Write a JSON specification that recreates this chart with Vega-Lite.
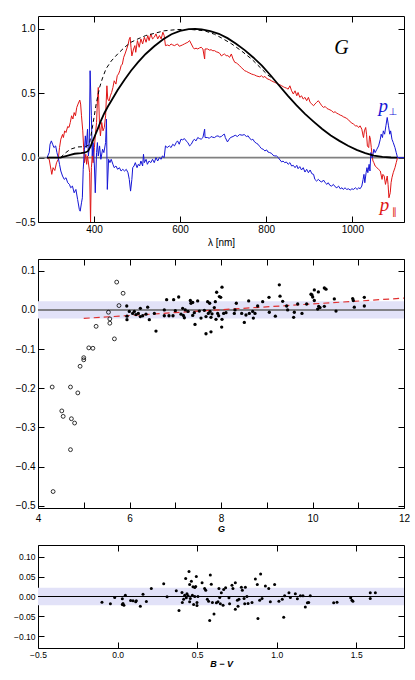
{
"$schema":"https://vega.github.io/schema/vega-lite/v6.json",
"padding":{"left":12,"top":15,"right":5,"bottom":5},
"spacing":37,
"bounds":"flush",
"config":{
"view":{"stroke":"black","strokeWidth":1},
"font":"Liberation Sans",
"axis":{"grid":false,"domain":false,"ticks":true,"tickSize":-6,"tickColor":"black","tickWidth":1,"labelFont":"Liberation Sans","labelFontSize":10,"labelColor":"black","labelPadding":9,"titleFont":"Liberation Sans","titleFontSize":10,"titleFontWeight":"normal","titleColor":"black","labelFlush":false,"labelOverlap":false,"labelBound":false}
},
"datasets":{
"zero":[{"v":0}],
"band":[{"lo":-0.022,"hi":0.022}],
"red":[{"lam":291,"v":0},{"lam":296,"v":-0.013},{"lam":300,"v":-0.09},{"lam":302,"v":-0.13},{"lam":305,"v":-0.078},{"lam":309,"v":-0.1},{"lam":313,"v":-0.04},{"lam":317,"v":-0.013},{"lam":320,"v":0.078},{"lam":323,"v":0.143},{"lam":327,"v":0.18},{"lam":329,"v":0.156},{"lam":332,"v":0.208},{"lam":335,"v":0.195},{"lam":339,"v":0.242},{"lam":342,"v":0.234},{"lam":345,"v":0.273},{"lam":348,"v":0.325},{"lam":351,"v":0.3},{"lam":354,"v":0.35},{"lam":357,"v":0.325},{"lam":360,"v":0.39},{"lam":363,"v":0.416},{"lam":367,"v":0.447},{"lam":369,"v":0.416},{"lam":371,"v":0.325},{"lam":374,"v":0.208},{"lam":376,"v":0.078},{"lam":378,"v":-0.039},{"lam":381,"v":0.026},{"lam":383,"v":-0.052},{"lam":385,"v":0.013},{"lam":388,"v":-0.065},{"lam":390,"v":-0.117},{"lam":392,"v":-0.5},{"lam":394,"v":-0.078},{"lam":396,"v":0.013},{"lam":398,"v":-0.04},{"lam":401,"v":0.078},{"lam":403,"v":0.169},{"lam":406,"v":0.273},{"lam":408,"v":0.44},{"lam":410,"v":0.545},{"lam":413,"v":0.247},{"lam":415,"v":0.169},{"lam":418,"v":0.273},{"lam":421,"v":0.208},{"lam":424,"v":0.234},{"lam":427,"v":0.325},{"lam":430,"v":0.558},{"lam":432,"v":0.455},{"lam":435,"v":0.44},{"lam":438,"v":0.48},{"lam":441,"v":0.506},{"lam":444,"v":0.545},{"lam":447,"v":0.597},{"lam":451,"v":0.571},{"lam":454,"v":0.636},{"lam":457,"v":0.65},{"lam":460,"v":0.675},{"lam":463,"v":0.714},{"lam":466,"v":0.727},{"lam":469,"v":0.779},{"lam":472,"v":0.805},{"lam":476,"v":0.844},{"lam":479,"v":0.875},{"lam":482,"v":0.922},{"lam":484,"v":0.935},{"lam":486,"v":0.857},{"lam":488,"v":0.79},{"lam":492,"v":0.844},{"lam":495,"v":0.87},{"lam":497,"v":0.818},{"lam":501,"v":0.909},{"lam":505,"v":0.857},{"lam":509,"v":0.922},{"lam":513,"v":0.883},{"lam":517,"v":0.935},{"lam":521,"v":0.896},{"lam":525,"v":0.948},{"lam":528,"v":0.909},{"lam":532,"v":0.961},{"lam":536,"v":0.922},{"lam":540,"v":0.935},{"lam":544,"v":0.961},{"lam":548,"v":0.922},{"lam":552,"v":0.948},{"lam":556,"v":0.922},{"lam":560,"v":0.974},{"lam":563,"v":0.948},{"lam":566,"v":0.87},{"lam":571,"v":0.875},{"lam":575,"v":0.868},{"lam":579,"v":0.883},{"lam":583,"v":0.875},{"lam":587,"v":0.87},{"lam":591,"v":0.878},{"lam":594,"v":0.883},{"lam":598,"v":0.865},{"lam":602,"v":0.87},{"lam":606,"v":0.876},{"lam":610,"v":0.883},{"lam":614,"v":0.89},{"lam":618,"v":0.896},{"lam":622,"v":0.909},{"lam":626,"v":0.883},{"lam":630,"v":0.857},{"lam":633,"v":0.844},{"lam":637,"v":0.85},{"lam":641,"v":0.844},{"lam":645,"v":0.852},{"lam":649,"v":0.857},{"lam":653,"v":0.844},{"lam":657,"v":0.766},{"lam":658,"v":0.844},{"lam":664,"v":0.844},{"lam":668,"v":0.835},{"lam":672,"v":0.838},{"lam":676,"v":0.83},{"lam":680,"v":0.831},{"lam":684,"v":0.822},{"lam":688,"v":0.818},{"lam":692,"v":0.81},{"lam":696,"v":0.79},{"lam":700,"v":0.8},{"lam":703,"v":0.805},{"lam":707,"v":0.792},{"lam":711,"v":0.792},{"lam":715,"v":0.779},{"lam":719,"v":0.805},{"lam":723,"v":0.766},{"lam":727,"v":0.74},{"lam":731,"v":0.735},{"lam":734,"v":0.727},{"lam":738,"v":0.715},{"lam":742,"v":0.7},{"lam":746,"v":0.688},{"lam":750,"v":0.675},{"lam":754,"v":0.67},{"lam":758,"v":0.662},{"lam":762,"v":0.656},{"lam":766,"v":0.649},{"lam":770,"v":0.645},{"lam":773,"v":0.642},{"lam":777,"v":0.635},{"lam":781,"v":0.631},{"lam":785,"v":0.628},{"lam":789,"v":0.636},{"lam":793,"v":0.623},{"lam":797,"v":0.631},{"lam":800,"v":0.618},{"lam":804,"v":0.61},{"lam":808,"v":0.605},{"lam":812,"v":0.597},{"lam":816,"v":0.59},{"lam":820,"v":0.584},{"lam":824,"v":0.578},{"lam":828,"v":0.571},{"lam":832,"v":0.565},{"lam":836,"v":0.558},{"lam":840,"v":0.55},{"lam":843,"v":0.545},{"lam":847,"v":0.54},{"lam":851,"v":0.532},{"lam":855,"v":0.558},{"lam":859,"v":0.519},{"lam":863,"v":0.494},{"lam":867,"v":0.519},{"lam":871,"v":0.48},{"lam":874,"v":0.506},{"lam":878,"v":0.468},{"lam":882,"v":0.48},{"lam":886,"v":0.455},{"lam":890,"v":0.468},{"lam":894,"v":0.442},{"lam":898,"v":0.468},{"lam":902,"v":0.429},{"lam":906,"v":0.416},{"lam":910,"v":0.403},{"lam":913,"v":0.416},{"lam":917,"v":0.429},{"lam":921,"v":0.442},{"lam":925,"v":0.423},{"lam":929,"v":0.403},{"lam":933,"v":0.39},{"lam":937,"v":0.397},{"lam":941,"v":0.382},{"lam":944,"v":0.377},{"lam":948,"v":0.371},{"lam":952,"v":0.364},{"lam":956,"v":0.351},{"lam":960,"v":0.356},{"lam":964,"v":0.345},{"lam":968,"v":0.338},{"lam":972,"v":0.33},{"lam":976,"v":0.325},{"lam":979,"v":0.317},{"lam":983,"v":0.312},{"lam":987,"v":0.304},{"lam":991,"v":0.294},{"lam":995,"v":0.278},{"lam":999,"v":0.268},{"lam":1003,"v":0.26},{"lam":1007,"v":0.247},{"lam":1011,"v":0.247},{"lam":1015,"v":0.234},{"lam":1018,"v":0.247},{"lam":1022,"v":0.221},{"lam":1025,"v":0.169},{"lam":1026,"v":0.156},{"lam":1028,"v":0.208},{"lam":1031,"v":0.234},{"lam":1033,"v":0.182},{"lam":1035,"v":0.091},{"lam":1038,"v":0.078},{"lam":1040,"v":0.169},{"lam":1042,"v":0.143},{"lam":1044,"v":0.078},{"lam":1046,"v":0.013},{"lam":1048,"v":-0.026},{"lam":1050,"v":-0.039},{"lam":1053,"v":-0.065},{"lam":1057,"v":-0.078},{"lam":1061,"v":-0.091},{"lam":1065,"v":-0.104},{"lam":1069,"v":-0.169},{"lam":1071,"v":-0.13},{"lam":1074,"v":-0.143},{"lam":1077,"v":-0.208},{"lam":1081,"v":-0.143},{"lam":1083,"v":-0.208},{"lam":1085,"v":-0.312},{"lam":1088,"v":-0.273},{"lam":1090,"v":-0.195},{"lam":1092,"v":-0.156},{"lam":1095,"v":-0.117},{"lam":1099,"v":-0.078},{"lam":1102,"v":-0.039},{"lam":1105,"v":0}],
"blue":[{"lam":291,"v":0},{"lam":296,"v":0.039},{"lam":298,"v":0.104},{"lam":301,"v":0.13},{"lam":304,"v":0.104},{"lam":307,"v":0.078},{"lam":311,"v":0.091},{"lam":314,"v":0.039},{"lam":317,"v":0},{"lam":320,"v":-0.052},{"lam":323,"v":-0.104},{"lam":327,"v":-0.143},{"lam":331,"v":-0.169},{"lam":335,"v":-0.156},{"lam":339,"v":-0.195},{"lam":343,"v":-0.208},{"lam":346,"v":-0.234},{"lam":350,"v":-0.221},{"lam":354,"v":-0.273},{"lam":358,"v":-0.247},{"lam":362,"v":-0.325},{"lam":366,"v":-0.403},{"lam":368,"v":-0.416},{"lam":371,"v":-0.351},{"lam":373,"v":-0.312},{"lam":375,"v":-0.091},{"lam":378,"v":0.065},{"lam":380,"v":0.169},{"lam":382,"v":0.078},{"lam":385,"v":0.221},{"lam":387,"v":0.013},{"lam":389,"v":0.078},{"lam":391,"v":0.675},{"lam":394,"v":0.325},{"lam":396,"v":0.013},{"lam":398,"v":0.117},{"lam":401,"v":-0.065},{"lam":403,"v":-0.273},{"lam":406,"v":0.039},{"lam":408,"v":0.117},{"lam":410,"v":0.013},{"lam":413,"v":0.091},{"lam":416,"v":-0.013},{"lam":420,"v":0.065},{"lam":423,"v":0.039},{"lam":427,"v":0.117},{"lam":429,"v":0.3},{"lam":431,"v":-0.247},{"lam":434,"v":-0.013},{"lam":437,"v":-0.039},{"lam":440,"v":-0.013},{"lam":444,"v":-0.052},{"lam":447,"v":-0.078},{"lam":451,"v":-0.065},{"lam":455,"v":-0.091},{"lam":459,"v":-0.078},{"lam":463,"v":-0.104},{"lam":467,"v":-0.091},{"lam":471,"v":-0.104},{"lam":475,"v":-0.091},{"lam":479,"v":-0.117},{"lam":482,"v":-0.169},{"lam":485,"v":-0.26},{"lam":488,"v":-0.169},{"lam":490,"v":-0.078},{"lam":493,"v":-0.065},{"lam":496,"v":-0.039},{"lam":500,"v":-0.078},{"lam":503,"v":-0.052},{"lam":506,"v":-0.065},{"lam":509,"v":-0.026},{"lam":513,"v":-0.065},{"lam":515,"v":0.026},{"lam":517,"v":-0.039},{"lam":521,"v":-0.013},{"lam":524,"v":-0.052},{"lam":528,"v":-0.026},{"lam":532,"v":-0.039},{"lam":536,"v":-0.013},{"lam":540,"v":-0.039},{"lam":544,"v":0},{"lam":548,"v":-0.026},{"lam":552,"v":0},{"lam":556,"v":-0.013},{"lam":559,"v":0.013},{"lam":563,"v":0},{"lam":566,"v":0.091},{"lam":570,"v":0.078},{"lam":575,"v":0.091},{"lam":579,"v":0.078},{"lam":583,"v":0.104},{"lam":587,"v":0.091},{"lam":591,"v":0.117},{"lam":594,"v":0.13},{"lam":598,"v":0.104},{"lam":602,"v":0.143},{"lam":606,"v":0.138},{"lam":610,"v":0.148},{"lam":614,"v":0.13},{"lam":618,"v":0.117},{"lam":622,"v":0.091},{"lam":626,"v":0.104},{"lam":630,"v":0.13},{"lam":633,"v":0.143},{"lam":637,"v":0.13},{"lam":641,"v":0.156},{"lam":645,"v":0.148},{"lam":649,"v":0.143},{"lam":653,"v":0.156},{"lam":657,"v":0.221},{"lam":658,"v":0.156},{"lam":664,"v":0.156},{"lam":668,"v":0.15},{"lam":672,"v":0.164},{"lam":676,"v":0.158},{"lam":680,"v":0.156},{"lam":684,"v":0.166},{"lam":688,"v":0.169},{"lam":692,"v":0.16},{"lam":696,"v":0.164},{"lam":700,"v":0.178},{"lam":703,"v":0.182},{"lam":705,"v":0.156},{"lam":710,"v":0.122},{"lam":713,"v":0.138},{"lam":717,"v":0.156},{"lam":723,"v":0.164},{"lam":728,"v":0.174},{"lam":733,"v":0.164},{"lam":738,"v":0.179},{"lam":744,"v":0.174},{"lam":749,"v":0.179},{"lam":754,"v":0.164},{"lam":758,"v":0.169},{"lam":762,"v":0.148},{"lam":766,"v":0.138},{"lam":769,"v":0.143},{"lam":773,"v":0.122},{"lam":777,"v":0.112},{"lam":781,"v":0.104},{"lam":785,"v":0.086},{"lam":789,"v":0.07},{"lam":793,"v":0.065},{"lam":797,"v":0.052},{"lam":801,"v":0.06},{"lam":804,"v":0.044},{"lam":808,"v":0.039},{"lam":812,"v":0.034},{"lam":816,"v":0.018},{"lam":820,"v":0.013},{"lam":824,"v":0.013},{"lam":828,"v":0},{"lam":832,"v":-0.018},{"lam":836,"v":-0.034},{"lam":839,"v":-0.026},{"lam":843,"v":-0.039},{"lam":847,"v":-0.034},{"lam":851,"v":-0.052},{"lam":855,"v":-0.039},{"lam":859,"v":-0.065},{"lam":863,"v":-0.06},{"lam":867,"v":-0.078},{"lam":871,"v":-0.06},{"lam":874,"v":-0.086},{"lam":878,"v":-0.07},{"lam":882,"v":-0.096},{"lam":886,"v":-0.078},{"lam":890,"v":-0.112},{"lam":894,"v":-0.091},{"lam":898,"v":-0.117},{"lam":902,"v":-0.096},{"lam":906,"v":-0.125},{"lam":910,"v":-0.13},{"lam":913,"v":-0.169},{"lam":917,"v":-0.182},{"lam":921,"v":-0.169},{"lam":925,"v":-0.182},{"lam":929,"v":-0.19},{"lam":933,"v":-0.174},{"lam":937,"v":-0.195},{"lam":941,"v":-0.208},{"lam":944,"v":-0.195},{"lam":948,"v":-0.216},{"lam":952,"v":-0.221},{"lam":956,"v":-0.208},{"lam":960,"v":-0.226},{"lam":964,"v":-0.234},{"lam":968,"v":-0.221},{"lam":972,"v":-0.242},{"lam":976,"v":-0.234},{"lam":979,"v":-0.247},{"lam":983,"v":-0.234},{"lam":987,"v":-0.247},{"lam":991,"v":-0.242},{"lam":995,"v":-0.252},{"lam":999,"v":-0.242},{"lam":1003,"v":-0.247},{"lam":1007,"v":-0.234},{"lam":1011,"v":-0.247},{"lam":1015,"v":-0.234},{"lam":1018,"v":-0.242},{"lam":1022,"v":-0.221},{"lam":1025,"v":-0.169},{"lam":1027,"v":-0.13},{"lam":1029,"v":-0.195},{"lam":1032,"v":-0.117},{"lam":1034,"v":-0.078},{"lam":1036,"v":-0.117},{"lam":1039,"v":-0.052},{"lam":1041,"v":-0.104},{"lam":1043,"v":0.039},{"lam":1046,"v":0},{"lam":1048,"v":0.026},{"lam":1050,"v":0.065},{"lam":1053,"v":0.039},{"lam":1057,"v":0.065},{"lam":1061,"v":0.091},{"lam":1065,"v":0.143},{"lam":1067,"v":0.182},{"lam":1070,"v":0.156},{"lam":1072,"v":0.208},{"lam":1075,"v":0.182},{"lam":1078,"v":0.247},{"lam":1081,"v":0.312},{"lam":1084,"v":0.247},{"lam":1087,"v":0.182},{"lam":1089,"v":0.208},{"lam":1092,"v":0.143},{"lam":1095,"v":0.117},{"lam":1099,"v":0.078},{"lam":1102,"v":0.039},{"lam":1105,"v":0},{"lam":1120,"v":0}],
"solid":[{"lam":291,"v":0},{"lam":322,"v":0},{"lam":335,"v":0.012},{"lam":345,"v":0.022},{"lam":355,"v":0.03},{"lam":370,"v":0.035},{"lam":380,"v":0.04},{"lam":386,"v":0.05},{"lam":392,"v":0.085},{"lam":396,"v":0.12},{"lam":401,"v":0.16},{"lam":409,"v":0.225},{"lam":416,"v":0.285},{"lam":424,"v":0.345},{"lam":432,"v":0.395},{"lam":440,"v":0.44},{"lam":455,"v":0.525},{"lam":471,"v":0.605},{"lam":486,"v":0.675},{"lam":502,"v":0.74},{"lam":520,"v":0.805},{"lam":540,"v":0.865},{"lam":560,"v":0.918},{"lam":580,"v":0.958},{"lam":600,"v":0.985},{"lam":620,"v":0.998},{"lam":635,"v":1.0},{"lam":650,"v":0.996},{"lam":670,"v":0.983},{"lam":690,"v":0.962},{"lam":710,"v":0.928},{"lam":730,"v":0.885},{"lam":750,"v":0.835},{"lam":770,"v":0.778},{"lam":790,"v":0.715},{"lam":810,"v":0.64},{"lam":830,"v":0.56},{"lam":850,"v":0.482},{"lam":870,"v":0.408},{"lam":890,"v":0.34},{"lam":910,"v":0.28},{"lam":930,"v":0.222},{"lam":950,"v":0.172},{"lam":970,"v":0.13},{"lam":990,"v":0.092},{"lam":1010,"v":0.06},{"lam":1030,"v":0.035},{"lam":1050,"v":0.016},{"lam":1070,"v":0.006},{"lam":1090,"v":0.001},{"lam":1104,"v":0}],
"dashed":[{"lam":322,"v":0},{"lam":335,"v":0.04},{"lam":345,"v":0.065},{"lam":362,"v":0.083},{"lam":380,"v":0.085},{"lam":389,"v":0.1},{"lam":393,"v":0.17},{"lam":397,"v":0.25},{"lam":401,"v":0.33},{"lam":405,"v":0.415},{"lam":409,"v":0.48},{"lam":413,"v":0.545},{"lam":420,"v":0.62},{"lam":428,"v":0.69},{"lam":440,"v":0.75},{"lam":455,"v":0.805},{"lam":471,"v":0.857},{"lam":486,"v":0.896},{"lam":502,"v":0.922},{"lam":520,"v":0.948},{"lam":540,"v":0.965},{"lam":563,"v":0.985},{"lam":594,"v":0.995},{"lam":626,"v":0.995},{"lam":657,"v":0.985},{"lam":680,"v":0.958},{"lam":696,"v":0.93},{"lam":719,"v":0.885},{"lam":742,"v":0.83},{"lam":766,"v":0.766},{"lam":789,"v":0.69},{"lam":804,"v":0.64},{"lam":818,"v":0.61}],
"toplab":[{"lam":975,"v":0.855,"t":"G","k":"G"},{"lam":1072,"v":0.351,"t":"p","k":"pb"},{"lam":1094,"v":0.333,"t":"⊥","k":"sb"},{"lam":1075,"v":-0.415,"t":"p","k":"pr"},{"lam":1098,"v":-0.449,"t":"∥","k":"sr"}],
"mopen":[{"g":4.31,"d":-0.197},{"g":4.33,"d":-0.464},{"g":4.52,"d":-0.258},{"g":4.55,"d":-0.272},{"g":4.71,"d":-0.197},{"g":4.73,"d":-0.278},{"g":4.8,"d":-0.289},{"g":4.71,"d":-0.357},{"g":4.87,"d":-0.212},{"g":4.92,"d":-0.144},{"g":5.0,"d":-0.1275},{"g":5.0,"d":-0.122},{"g":5.11,"d":-0.097},{"g":5.2,"d":-0.098},{"g":5.27,"d":-0.042},{"g":5.54,"d":-0.006},{"g":5.57,"d":-0.023},{"g":5.57,"d":-0.034},{"g":5.67,"d":-0.074},{"g":5.72,"d":0.071},{"g":5.77,"d":0.011},{"g":5.86,"d":0.0425}],
"mfill":[{"g":5.94,"d":0.01},{"g":5.945,"d":-0.025},{"g":5.945,"d":-0.016},{"g":5.996,"d":-0.004},{"g":6.069,"d":-0.009},{"g":6.106,"d":-0.004},{"g":6.142,"d":-0.012},{"g":6.193,"d":-0.009},{"g":6.237,"d":0.004},{"g":6.237,"d":-0.017},{"g":6.288,"d":-0.015},{"g":6.361,"d":-0.011},{"g":6.397,"d":0.007},{"g":6.433,"d":-0.025},{"g":6.543,"d":-0.009},{"g":6.579,"d":-0.054},{"g":6.761,"d":0.0},{"g":6.761,"d":-0.015},{"g":6.812,"d":0.026},{"g":6.863,"d":-0.015},{"g":6.951,"d":-0.015},{"g":6.965,"d":0.026},{"g":7.002,"d":-0.002},{"g":7.075,"d":0.033},{"g":7.126,"d":-0.011},{"g":7.162,"d":0.004},{"g":7.177,"d":-0.014},{"g":7.199,"d":-0.02},{"g":7.22,"d":0.0},{"g":7.279,"d":-0.004},{"g":7.33,"d":0.024},{"g":7.344,"d":0.017},{"g":7.381,"d":0.019},{"g":7.381,"d":-0.014},{"g":7.417,"d":-0.007},{"g":7.432,"d":-0.037},{"g":7.49,"d":0.023},{"g":7.526,"d":-0.003},{"g":7.563,"d":-0.021},{"g":7.636,"d":-0.001},{"g":7.672,"d":-0.061},{"g":7.672,"d":-0.017},{"g":7.708,"d":0.021},{"g":7.723,"d":-0.009},{"g":7.752,"d":0.017},{"g":7.76,"d":-0.004},{"g":7.781,"d":-0.056},{"g":7.781,"d":-0.019},{"g":7.803,"d":-0.01},{"g":7.854,"d":0.006},{"g":7.876,"d":0.021},{"g":7.891,"d":-0.024},{"g":7.905,"d":0.045},{"g":7.927,"d":-0.009},{"g":7.949,"d":-0.015},{"g":7.964,"d":0.034},{"g":7.993,"d":0.032},{"g":8.015,"d":-0.044},{"g":8.022,"d":0.058},{"g":8.022,"d":-0.024},{"g":8.058,"d":-0.009},{"g":8.109,"d":-0.007},{"g":8.291,"d":-0.009},{"g":8.306,"d":0.0},{"g":8.335,"d":0.017},{"g":8.452,"d":-0.009},{"g":8.51,"d":-0.032},{"g":8.546,"d":-0.013},{"g":8.605,"d":0.023},{"g":8.619,"d":-0.009},{"g":8.692,"d":-0.004},{"g":8.707,"d":-0.021},{"g":8.743,"d":-0.009},{"g":8.801,"d":0.01},{"g":8.911,"d":0.021},{"g":9.049,"d":0.032},{"g":9.056,"d":-0.006},{"g":9.188,"d":-0.016},{"g":9.275,"d":0.064},{"g":9.29,"d":0.035},{"g":9.348,"d":0.022},{"g":9.435,"d":0.01},{"g":9.457,"d":0.0},{"g":9.588,"d":-0.019},{"g":9.603,"d":-0.006},{"g":9.676,"d":0.015},{"g":9.77,"d":-0.009},{"g":9.872,"d":0.015},{"g":9.967,"d":0.04},{"g":9.989,"d":0.038},{"g":10.004,"d":0.033},{"g":10.04,"d":0.024},{"g":10.04,"d":0.051},{"g":10.113,"d":0.002},{"g":10.128,"d":0.046},{"g":10.135,"d":0.009},{"g":10.164,"d":0.006},{"g":10.259,"d":0.056},{"g":10.295,"d":0.053},{"g":10.259,"d":0.009},{"g":10.477,"d":0.028},{"g":10.514,"d":-0.003},{"g":10.878,"d":0.029},{"g":10.892,"d":0.024},{"g":10.914,"d":0.007},{"g":11.133,"d":0.032},{"g":11.133,"d":0.01}],
"mfit":[{"g":5.0,"d":-0.0217},{"g":12.0,"d":0.03}],
"bot":[{"bv":-0.098,"d":-0.0143},{"bv":-0.045,"d":-0.0186},{"bv":-0.018,"d":-0.0025},{"bv":0.03,"d":-0.0059},{"bv":0.03,"d":-0.0203},{"bv":0.034,"d":-0.0177},{"bv":0.049,"d":0.0034},{"bv":0.04,"d":-0.0219},{"bv":0.082,"d":-0.0101},{"bv":0.097,"d":-0.011},{"bv":0.114,"d":-0.0135},{"bv":0.118,"d":-0.011},{"bv":0.143,"d":-0.0245},{"bv":0.16,"d":0.0059},{"bv":0.181,"d":-0.0127},{"bv":0.212,"d":0.0203},{"bv":0.29,"d":0.0321},{"bv":0.311,"d":-0.0008},{"bv":0.369,"d":0.0143},{"bv":0.386,"d":-0.0354},{"bv":0.405,"d":0.0101},{"bv":0.407,"d":-0.0152},{"bv":0.415,"d":-0.0068},{"bv":0.422,"d":0.0034},{"bv":0.428,"d":0.0456},{"bv":0.432,"d":-0.0034},{"bv":0.436,"d":0.0068},{"bv":0.443,"d":0.0017},{"bv":0.449,"d":0.0633},{"bv":0.453,"d":0.0304},{"bv":0.453,"d":-0.0135},{"bv":0.457,"d":-0.0051},{"bv":0.464,"d":0.0388},{"bv":0.47,"d":0.0034},{"bv":0.474,"d":0.0245},{"bv":0.478,"d":-0.0203},{"bv":0.485,"d":0.0},{"bv":0.485,"d":0.0228},{"bv":0.491,"d":0.0253},{"bv":0.495,"d":0.0506},{"bv":0.499,"d":-0.0152},{"bv":0.499,"d":-0.0228},{"bv":0.505,"d":0.0},{"bv":0.531,"d":0.0346},{"bv":0.547,"d":0.0203},{"bv":0.554,"d":0.016},{"bv":0.564,"d":-0.0068},{"bv":0.572,"d":-0.0118},{"bv":0.579,"d":-0.0608},{"bv":0.583,"d":0.054},{"bv":0.589,"d":0.0312},{"bv":0.596,"d":-0.0152},{"bv":0.606,"d":-0.0439},{"bv":0.621,"d":-0.016},{"bv":0.631,"d":-0.0135},{"bv":0.637,"d":0.0203},{"bv":0.642,"d":-0.0025},{"bv":0.646,"d":-0.0186},{"bv":0.652,"d":0.0093},{"bv":0.663,"d":-0.0219},{"bv":0.667,"d":0.0177},{"bv":0.679,"d":0.0219},{"bv":0.7,"d":-0.0034},{"bv":0.704,"d":-0.0186},{"bv":0.719,"d":0.0287},{"bv":0.725,"d":0.0203},{"bv":0.74,"d":0.0346},{"bv":0.74,"d":-0.0321},{"bv":0.753,"d":-0.0093},{"bv":0.757,"d":-0.0245},{"bv":0.763,"d":-0.0068},{"bv":0.778,"d":0.0236},{"bv":0.784,"d":0.016},{"bv":0.795,"d":-0.0051},{"bv":0.799,"d":-0.0186},{"bv":0.803,"d":0.0236},{"bv":0.813,"d":0.0},{"bv":0.82,"d":-0.0177},{"bv":0.845,"d":-0.0152},{"bv":0.866,"d":0.0439},{"bv":0.878,"d":0.0304},{"bv":0.882,"d":-0.0557},{"bv":0.893,"d":-0.0093},{"bv":0.899,"d":0.0565},{"bv":0.908,"d":-0.0051},{"bv":0.929,"d":0.0262},{"bv":0.95,"d":0.0203},{"bv":0.96,"d":-0.0135},{"bv":0.987,"d":0.0304},{"bv":1.014,"d":-0.0118},{"bv":1.035,"d":-0.0068},{"bv":1.044,"d":-0.0523},{"bv":1.05,"d":0.0017},{"bv":1.077,"d":0.0093},{"bv":1.086,"d":-0.0025},{"bv":1.117,"d":0.0068},{"bv":1.13,"d":-0.0059},{"bv":1.149,"d":0.0017},{"bv":1.165,"d":0.0017},{"bv":1.18,"d":-0.0262},{"bv":1.193,"d":-0.016},{"bv":1.201,"d":-0.0152},{"bv":1.211,"d":0.0017},{"bv":1.358,"d":-0.016},{"bv":1.379,"d":-0.0143},{"bv":1.465,"d":-0.0034},{"bv":1.473,"d":-0.0093},{"bv":1.479,"d":-0.0118},{"bv":1.588,"d":0.0093},{"bv":1.588,"d":-0.0051},{"bv":1.62,"d":0.0093}]
},
"vconcat":[
{
"width":366,"height":206,
"layer":[
{"data":{"name":"zero"},"mark":{"type":"rule","color":"#808080","strokeWidth":1.6},"encoding":{"y":{"field":"v","type":"quantitative","scale":{"domain":[-0.5,1.1],"nice":false,"zero":false},"axis":null}}},
{"data":{"name":"red"},"mark":{"type":"line","color":"#e01515","strokeWidth":1,"clip":true},"encoding":{
"x":{"field":"lam","type":"quantitative","scale":{"domain":[270,1120],"nice":false,"zero":false},"axis":{"orient":"bottom","values":[400,600,800,1000],"format":"d","title":"λ [nm]","labelPadding":8.6,"titlePadding":3}},
"y":{"field":"v","type":"quantitative","scale":{"domain":[-0.5,1.1],"nice":false,"zero":false},"axis":{"orient":"left","values":[-0.5,0,0.5,1],"format":".1f","title":null}}}},
{"data":{"name":"blue"},"mark":{"type":"line","color":"#1515d5","strokeWidth":1,"clip":true},"encoding":{
"x":{"field":"lam","type":"quantitative","scale":{"domain":[270,1120],"nice":false,"zero":false},"axis":{"orient":"top","values":[400,600,800,1000],"labels":false,"title":null}},
"y":{"field":"v","type":"quantitative","scale":{"domain":[-0.5,1.1],"nice":false,"zero":false},"axis":{"orient":"right","values":[-0.5,0,0.5,1],"labels":false,"title":null}}}},
{"data":{"name":"dashed"},"mark":{"type":"line","color":"black","strokeWidth":1,"strokeDash":[4,3]},"encoding":{
"x":{"field":"lam","type":"quantitative","axis":null},
"y":{"field":"v","type":"quantitative","axis":null}}},
{"data":{"name":"solid"},"mark":{"type":"line","color":"black","strokeWidth":1.8},"encoding":{
"x":{"field":"lam","type":"quantitative","axis":null},
"y":{"field":"v","type":"quantitative","axis":null}}},
{"data":{"name":"toplab"},"transform":[{"filter":"datum.k=='G'"}],"mark":{"type":"text","font":"Liberation Serif","fontStyle":"italic","fontSize":20,"color":"black","align":"center","baseline":"middle"},"encoding":{"x":{"field":"lam","type":"quantitative","axis":null},"y":{"field":"v","type":"quantitative","axis":null},"text":{"field":"t"}}},
{"data":{"name":"toplab"},"transform":[{"filter":"datum.k=='pb'"}],"mark":{"type":"text","font":"Liberation Serif","fontStyle":"italic","fontSize":19,"color":"#1515d5","align":"center","baseline":"alphabetic"},"encoding":{"x":{"field":"lam","type":"quantitative","axis":null},"y":{"field":"v","type":"quantitative","axis":null},"text":{"field":"t"}}},
{"data":{"name":"toplab"},"transform":[{"filter":"datum.k=='sb'"}],"mark":{"type":"text","font":"DejaVu Sans","fontSize":10,"color":"#1515d5","align":"center","baseline":"alphabetic"},"encoding":{"x":{"field":"lam","type":"quantitative","axis":null},"y":{"field":"v","type":"quantitative","axis":null},"text":{"field":"t"}}},
{"data":{"name":"toplab"},"transform":[{"filter":"datum.k=='pr'"}],"mark":{"type":"text","font":"Liberation Serif","fontStyle":"italic","fontSize":19,"color":"#e01515","align":"center","baseline":"alphabetic"},"encoding":{"x":{"field":"lam","type":"quantitative","axis":null},"y":{"field":"v","type":"quantitative","axis":null},"text":{"field":"t"}}},
{"data":{"name":"toplab"},"transform":[{"filter":"datum.k=='sr'"}],"mark":{"type":"text","font":"DejaVu Sans","fontSize":10,"color":"#e01515","align":"center","baseline":"alphabetic"},"encoding":{"x":{"field":"lam","type":"quantitative","axis":null},"y":{"field":"v","type":"quantitative","axis":null},"text":{"field":"t"}}}
],
"resolve":{"axis":{"x":"independent","y":"independent"}}
},
{
"width":366,"height":249,
"layer":[
{"data":{"name":"band"},"mark":{"type":"rect","color":"#e2e2f8"},"encoding":{"y":{"field":"lo","type":"quantitative","scale":{"domain":[-0.506,0.13],"nice":false,"zero":false},"axis":null},"y2":{"field":"hi"}}},
{"data":{"name":"zero"},"mark":{"type":"rule","color":"#606060","strokeWidth":1.5},"encoding":{"y":{"field":"v","type":"quantitative","axis":null}}},
{"data":{"name":"mfit"},"mark":{"type":"line","color":"#e03030","strokeWidth":1.2,"strokeDash":[6,4]},"encoding":{
"x":{"field":"g","type":"quantitative","scale":{"domain":[4,12],"nice":false,"zero":false},"axis":{"orient":"bottom","values":[4,5,6,7,8,9,10,11,12],"labelExpr":"datum.value % 2 == 0 ? datum.label : ''","format":"d","title":"G","titleFont":"Liberation Sans","titleFontStyle":"italic","titleFontWeight":"bold","titleFontSize":9,"labelPadding":11,"titlePadding":1}},
"y":{"field":"d","type":"quantitative","axis":{"orient":"left","values":[-0.5,-0.4,-0.3,-0.2,-0.1,0,0.1],"format":".1f","title":null}}}},
{"data":{"name":"mopen"},"mark":{"type":"point","shape":"circle","filled":false,"stroke":"black","strokeWidth":0.8,"size":15,"opacity":1},"encoding":{
"x":{"field":"g","type":"quantitative","axis":{"orient":"top","values":[4,5,6,7,8,9,10,11,12],"labels":false,"title":null}},
"y":{"field":"d","type":"quantitative","axis":{"orient":"right","values":[-0.5,-0.4,-0.3,-0.2,-0.1,0,0.1],"labels":false,"title":null}}}},
{"data":{"name":"mfill"},"mark":{"type":"circle","color":"black","size":11,"opacity":1},"encoding":{
"x":{"field":"g","type":"quantitative","axis":null},
"y":{"field":"d","type":"quantitative","axis":null}}}
],
"resolve":{"axis":{"x":"independent","y":"independent"}}
},
{
"width":366,"height":103,
"layer":[
{"data":{"name":"band"},"mark":{"type":"rect","color":"#e2e2f8"},"encoding":{"y":{"field":"lo","type":"quantitative","scale":{"domain":[-0.13,0.13],"nice":false,"zero":false},"axis":null},"y2":{"field":"hi"}}},
{"data":{"name":"zero"},"mark":{"type":"rule","color":"black","strokeWidth":1},"encoding":{"y":{"field":"v","type":"quantitative","axis":null}}},
{"data":{"name":"bot"},"mark":{"type":"circle","color":"black","size":9,"opacity":1},"encoding":{
"x":{"field":"bv","type":"quantitative","scale":{"domain":[-0.5,1.8],"nice":false,"zero":false},"axis":{"orient":"bottom","values":[-0.5,0,0.5,1,1.5],"format":".1f","title":"B − V","titleFont":"Liberation Sans","titleFontStyle":"italic","titleFontWeight":"bold","titleFontSize":9,"labelFontSize":8.5,"labelPadding":8,"titlePadding":1}},
"y":{"field":"d","type":"quantitative","axis":{"orient":"left","values":[-0.1,-0.05,0,0.05,0.1],"format":".2f","title":null,"labelFontSize":8.5}}}},
{"data":{"name":"bot"},"mark":{"type":"circle","opacity":0},"encoding":{
"x":{"field":"bv","type":"quantitative","axis":{"orient":"top","values":[-0.5,0,0.5,1,1.5],"labels":false,"title":null}},
"y":{"field":"d","type":"quantitative","axis":{"orient":"right","values":[-0.1,-0.05,0,0.05,0.1],"labels":false,"title":null}}}}
],
"resolve":{"axis":{"x":"independent","y":"independent"}}
}
]
}
